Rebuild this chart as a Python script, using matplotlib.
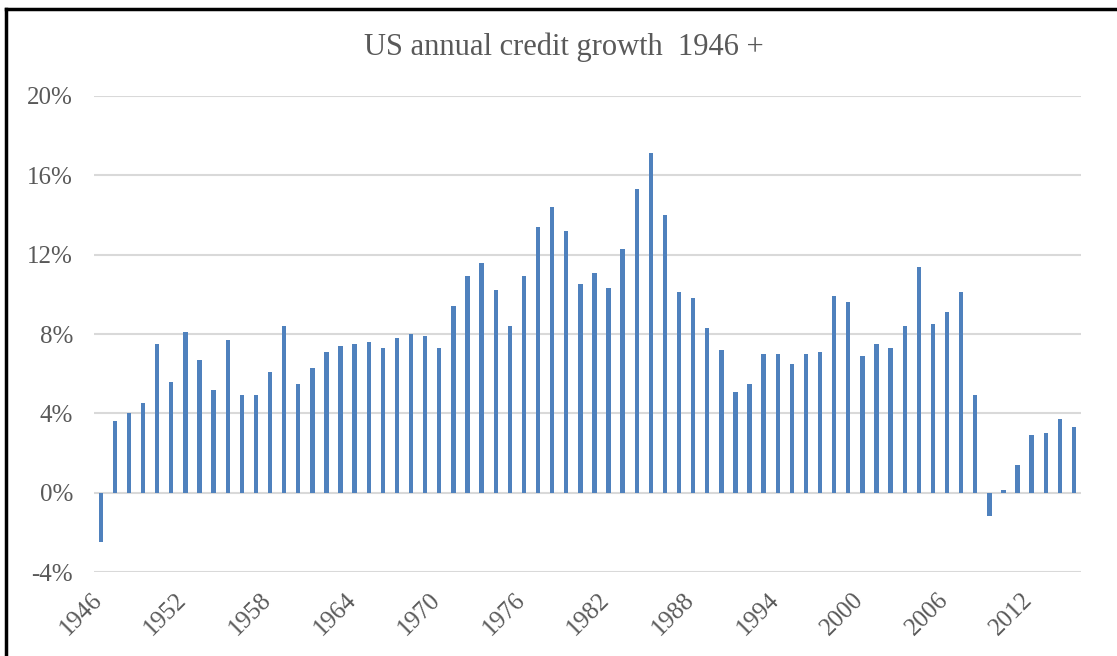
import matplotlib
matplotlib.use("Agg")
import matplotlib.pyplot as plt
from matplotlib.lines import Line2D
from matplotlib.transforms import ScaledTranslation, blended_transform_factory

# Years shown on the x axis (one bar per year)
years = list(range(1946, 2016))

# Annual credit growth in percent
growth = [
    -2.5, 3.6, 4.0, 4.5, 7.5, 5.6, 8.1, 6.7, 5.2, 7.7,
    4.9, 4.9, 6.1, 8.4, 5.5, 6.3, 7.1, 7.4, 7.5, 7.6,
    7.3, 7.8, 8.0, 7.9, 7.3, 9.4, 10.9, 11.6, 10.2, 8.4,
    10.9, 13.4, 14.4, 13.2, 10.5, 11.1, 10.3, 12.3, 15.3, 17.1,
    14.0, 10.1, 9.8, 8.3, 7.2, 5.1, 5.5, 7.0, 7.0, 6.5,
    7.0, 7.1, 9.9, 9.6, 6.9, 7.5, 7.3, 8.4, 11.4, 8.5,
    9.1, 10.1, 4.9, -1.2, 0.15, 1.4, 2.9, 3.0, 3.7, 3.3,
]

y_ticks = [-4, 0, 4, 8, 12, 16, 20]
label_years = list(range(1946, 2016, 6))

TEXT = "#595959"
BLUE = "#4F81BD"
GRID = "#D9D9D9"

plt.rcParams["font.family"] = ["Liberation Serif", "DejaVu Serif"]

fig = plt.figure(figsize=(11.17, 6.56), dpi=100)
ax = fig.add_axes([0.0839, 0.128, 0.8839, 0.7257])

pos = list(range(len(years)))
ax.bar(pos, growth, width=0.31, color=BLUE, zorder=3)

ax.set_ylim(-4, 20)
ax.set_xlim(-0.5, len(years) - 0.5)
ax.set_yticks(y_ticks)
ax.set_yticklabels([f"{v}%" for v in y_ticks], fontsize=18, color=TEXT)

# year labels drawn by hand so they can sit down-left of the tick like in Excel
ax.set_xticks([years.index(y) for y in label_years])
ax.set_xticklabels([])
trans = blended_transform_factory(ax.transData, ax.transAxes) + \
    ScaledTranslation(-0.10, -0.17, fig.dpi_scale_trans)
for y in label_years:
    ax.text(years.index(y), 0, str(y), transform=trans, fontsize=18, color=TEXT,
            rotation=45, ha="right", va="top", rotation_mode="anchor")

ax.grid(axis="y", color=GRID, linewidth=1.5, zorder=0)
ax.tick_params(axis="both", length=0)
ax.tick_params(axis="y", pad=15)
for s in ax.spines.values():
    s.set_visible(False)

fig.text(0.505, 0.928, "US annual credit growth  1946 +", ha="center", va="center",
         fontsize=22, color=TEXT)

# black frame on top and left edge, as in the screenshot
fig.add_artist(Line2D([0.005, 1.0], [0.987, 0.987], color="black", linewidth=2.5,
                      transform=fig.transFigure))
fig.add_artist(Line2D([0.0055, 0.0055], [0.0, 0.987], color="black", linewidth=2.5,
                      transform=fig.transFigure))

fig.savefig("out.png", dpi=100)
